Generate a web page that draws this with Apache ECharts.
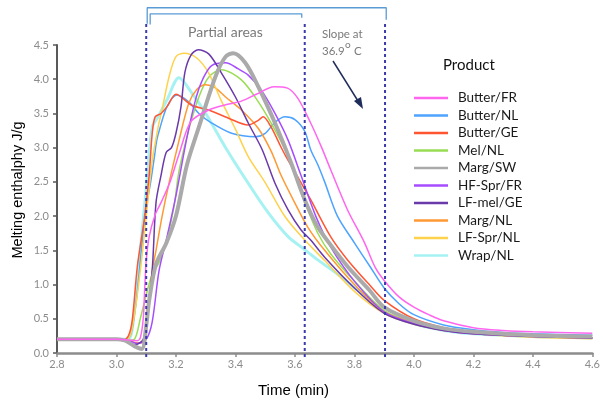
<!DOCTYPE html>
<html><head><meta charset="utf-8">
<script src="https://cdn.jsdelivr.net/npm/echarts@6/dist/echarts.min.js"></script>
<style>html,body{margin:0;padding:0;background:#fff}#c{width:603px;height:401px}</style>
</head><body><div id="c"></div>
<script>
const xTicks = [2.8, 3.0, 3.2, 3.4, 3.6, 3.8, 4.0, 4.2, 4.4, 4.6];
const yTicks = [0.0, 0.5, 1.0, 1.5, 2.0, 2.5, 3.0, 3.5, 4.0, 4.5];
const names = ['Butter/FR','Butter/NL','Butter/GE','Mel/NL','Marg/SW','HF-Spr/FR','LF-mel/GE','Marg/NL','LF-Spr/NL','Wrap/NL'];
const colors = ['#ff66f0','#4da3ff','#ff5533','#99dd55','#aaaaaa','#a64dff','#6a3aaa','#ff9933','#ffd24d','#a6f2f2'];
const widths = [1.5,1.5,1.5,1.5,4,1.5,1.5,1.5,1.5,3];
const regionBounds = [3.1, 3.633, 3.903];

const butterFR = [[2.8,0.2],[3.0,0.2],[3.04,0.19],[3.07,0.18],[3.08,0.22],[3.09,0.5],[3.095,0.95],[3.1,1.35],[3.11,1.7],[3.13,2.02],[3.15,2.2],[3.18,2.5],[3.21,2.9],[3.25,3.38],[3.31,3.55],[3.37,3.63],[3.42,3.68],[3.47,3.78],[3.53,3.89],[3.575,3.87],[3.61,3.72],[3.653,3.36],[3.69,3.0],[3.72,2.68],[3.777,2.09],[3.833,1.62],[3.87,1.25],[3.9,1.06],[3.95,0.82],[4.0,0.67],[4.05,0.56],[4.1,0.47],[4.2,0.37],[4.3,0.33],[4.4,0.31],[4.6,0.29]];
const butterNL = [[2.8,0.2],[3.0,0.2],[3.03,0.18],[3.05,0.3],[3.07,0.9],[3.087,1.65],[3.103,2.2],[3.115,2.5],[3.127,2.85],[3.135,3.1],[3.145,3.27],[3.17,3.6],[3.203,3.77],[3.243,3.67],[3.277,3.5],[3.32,3.36],[3.387,3.21],[3.467,3.16],[3.5,3.21],[3.533,3.37],[3.567,3.45],[3.6,3.41],[3.633,3.24],[3.653,2.97],[3.677,2.75],[3.7,2.5],[3.743,2.0],[3.8,1.61],[3.853,1.26],[3.9,0.95],[3.95,0.72],[4.0,0.56],[4.1,0.41],[4.2,0.34],[4.3,0.3],[4.4,0.28],[4.6,0.26]];
const butterGE = [[2.8,0.2],[3.0,0.2],[3.02,0.18],[3.04,0.25],[3.053,0.48],[3.07,1.26],[3.093,1.94],[3.11,2.6],[3.12,3.2],[3.13,3.45],[3.15,3.5],[3.17,3.6],[3.2,3.78],[3.253,3.62],[3.31,3.55],[3.377,3.43],[3.443,3.33],[3.477,3.4],[3.493,3.45],[3.52,3.3],[3.553,3.01],[3.57,2.87],[3.61,2.57],[3.653,2.24],[3.72,1.7],[3.777,1.36],[3.85,1.0],[3.9,0.77],[4.0,0.5],[4.1,0.37],[4.2,0.3],[4.4,0.25],[4.6,0.22]];
const melNL = [[2.8,0.2],[3.0,0.2],[3.03,0.18],[3.06,0.2],[3.08,0.5],[3.1,0.85],[3.12,1.15],[3.143,1.32],[3.167,1.61],[3.193,2.13],[3.21,2.65],[3.243,3.26],[3.277,3.74],[3.31,4.03],[3.353,4.14],[3.42,3.99],[3.477,3.67],[3.52,3.36],[3.567,2.97],[3.6,2.6],[3.633,2.2],[3.677,1.75],[3.72,1.45],[3.8,1.05],[3.9,0.62],[4.0,0.44],[4.1,0.34],[4.2,0.29],[4.4,0.24],[4.6,0.22]];
const margSW = [[2.8,0.2],[3.0,0.2],[3.03,0.18],[3.06,0.1],[3.085,0.06],[3.1,0.4],[3.11,0.77],[3.133,1.3],[3.167,1.6],[3.2,2.0],[3.237,2.75],[3.277,3.3],[3.333,4.04],[3.367,4.33],[3.393,4.38],[3.433,4.24],[3.477,3.89],[3.533,3.36],[3.587,2.78],[3.633,2.24],[3.677,1.84],[3.72,1.58],[3.78,1.25],[3.85,0.92],[3.9,0.67],[4.0,0.47],[4.1,0.36],[4.2,0.31],[4.4,0.26],[4.6,0.24]];
const hfSprFR = [[2.8,0.2],[3.0,0.2],[3.04,0.18],[3.07,0.14],[3.1,0.2],[3.12,0.45],[3.143,1.2],[3.17,1.7],[3.2,2.3],[3.237,3.15],[3.267,3.72],[3.29,4.0],[3.32,4.2],[3.367,4.24],[3.41,4.15],[3.443,4.06],[3.487,3.84],[3.533,3.5],[3.577,3.11],[3.62,2.6],[3.67,2.0],[3.72,1.55],[3.8,1.05],[3.9,0.6],[4.0,0.43],[4.1,0.33],[4.2,0.28],[4.4,0.24],[4.6,0.22]];
const lfMelGE = [[2.8,0.2],[3.0,0.2],[3.03,0.17],[3.06,0.12],[3.09,0.2],[3.103,0.53],[3.12,1.2],[3.133,2.2],[3.15,2.6],[3.167,2.93],[3.185,3.0],[3.2,3.21],[3.217,3.6],[3.23,4.1],[3.25,4.35],[3.275,4.43],[3.31,4.37],[3.353,4.09],[3.4,3.74],[3.443,3.36],[3.49,2.97],[3.533,2.48],[3.577,2.09],[3.62,1.8],[3.653,1.65],[3.7,1.4],[3.8,0.95],[3.9,0.58],[4.0,0.42],[4.1,0.33],[4.2,0.28],[4.4,0.24],[4.6,0.22]];
const margNL = [[2.8,0.2],[3.0,0.2],[3.04,0.18],[3.07,0.15],[3.087,0.15],[3.1,0.38],[3.12,1.2],[3.133,1.5],[3.153,1.99],[3.177,2.49],[3.21,3.1],[3.243,3.65],[3.27,3.85],[3.3,3.92],[3.33,3.88],[3.367,3.74],[3.42,3.55],[3.477,3.28],[3.52,2.95],[3.553,2.6],[3.6,2.19],[3.643,1.84],[3.7,1.5],[3.8,1.0],[3.9,0.6],[4.0,0.44],[4.1,0.34],[4.2,0.29],[4.4,0.24],[4.6,0.22]];
const lfSprNL = [[2.8,0.2],[3.0,0.2],[3.03,0.18],[3.05,0.3],[3.08,1.2],[3.1,2.0],[3.12,2.8],[3.14,3.3],[3.153,3.55],[3.177,4.04],[3.2,4.33],[3.227,4.38],[3.27,4.31],[3.31,4.09],[3.353,3.68],[3.4,3.27],[3.443,2.87],[3.5,2.49],[3.567,1.99],[3.633,1.65],[3.7,1.35],[3.8,0.9],[3.9,0.58],[4.0,0.42],[4.1,0.33],[4.2,0.28],[4.4,0.23],[4.6,0.21]];
const wrapNL = [[2.8,0.2],[3.0,0.2],[3.04,0.2],[3.06,0.6],[3.08,1.5],[3.1,2.4],[3.12,3.3],[3.14,3.45],[3.17,3.7],[3.21,4.02],[3.253,3.8],[3.3,3.5],[3.367,3.0],[3.443,2.48],[3.51,2.05],[3.577,1.7],[3.633,1.51],[3.677,1.36],[3.75,1.13],[3.83,0.85],[3.9,0.6],[4.0,0.43],[4.1,0.33],[4.2,0.28],[4.4,0.24],[4.6,0.22]];

const seriesData = [butterFR, butterNL, butterGE, melNL, margSW, hfSprFR, lfMelGE, margNL, lfSprNL, wrapNL];
const zOrder = [12, 4, 6, 5, 9, 7, 8, 5, 5, 3];

const chart = echarts.init(document.getElementById('c'), null, {renderer:'canvas'});
const series = names.map((n, i) => ({
  name: n, type: 'line', data: seriesData[i], smooth: 0.3, symbol: 'none', z: zOrder[i],
  lineStyle: {color: colors[i], width: widths[i]}, itemStyle: {color: colors[i]}, animation: false
}));
regionBounds.forEach(x => {
  series.push({type:'line', data:[[x,-0.06],[x,4.84]], symbol:'none', clip:false, silent:true, z:20,
    lineStyle:{color:'#3b3bab', width:2, type:[3,3]}, animation:false});
});
series.push({type:'line', data:[[3.1033,4.81],[3.1033,5.044],[3.907,5.044],[3.907,4.87]], symbol:'none', clip:false, silent:true, z:20,
  lineStyle:{color:'#5b9bd5', width:1.3}, animation:false});
series.push({type:'line', data:[[3.1133,4.80],[3.1133,4.956],[3.623,4.956],[3.623,4.898]], symbol:'none', clip:false, silent:true, z:20,
  lineStyle:{color:'#5b9bd5', width:1.3}, animation:false});

const legendData = names.map((n, i) => ({name: n, icon: 'rect', itemStyle: {color: colors[i]}}));

const option = {
  animation: false,
  grid: {left: 57, right: 6, top: 45, bottom: 48},
  xAxis: {
    type: 'value', min: 2.8, max: 4.6, interval: 0.2,
    axisLine: {show: true, lineStyle: {color: '#8c8c8c', width: 2.5}},
    axisTick: {show: true, length: 4, lineStyle: {color: '#8c8c8c', width: 1.5}},
    axisLabel: {color: '#8c8c8c', fontSize: 11, fontFamily: 'Lato', margin: 6, formatter: v => v.toFixed(1)},
    splitLine: {show: false}
  },
  yAxis: {
    type: 'value', min: 0, max: 4.5, interval: 0.5,
    axisLine: {show: true, lineStyle: {color: '#595959', width: 2}},
    axisTick: {show: true, length: 4, lineStyle: {color: '#595959', width: 1.5}},
    axisLabel: {color: '#8c8c8c', fontSize: 11, fontFamily: 'Lato', margin: 8, formatter: v => v.toFixed(1)},
    splitLine: {show: false}
  },
  legend: {
    orient: 'vertical', left: 409, top: 86, itemWidth: 34, itemHeight: 2.5, itemGap: 3.5,
    data: legendData, selectedMode: false,
    textStyle: {fontSize: 13.5, color: '#1a1a1a', fontFamily: 'Lato', padding: [0,0,0,5], lineHeight: 14}
  },
  graphic: [
    {type:'text', left:443, top:58, style:{text:'Product', font:'15px Lato', fill:'#111'}},
    {type:'text', left:188, top:25, style:{text:'Partial areas', font:'14px Lato', fill:'#7a7a7a'}},
    {type:'text', left:322, top:28, style:{text:'Slope at', font:'11.5px Lato', fill:'#7a7a7a'}},
    {type:'text', left:322, top:45, style:{text:'36.9', font:'11.5px Lato', fill:'#7a7a7a'}},
    {type:'text', left:345, top:40, style:{text:'o', font:'10px Lato', fill:'#7a7a7a'}},
    {type:'text', left:354, top:45, style:{text:'C', font:'11.5px Lato', fill:'#7a7a7a'}},
    {type:'line', shape:{x1:333, y1:61, x2:358, y2:101}, style:{stroke:'#1f2d5a', lineWidth:1.5}},
    {type:'polygon', shape:{points:[[363,109],[354,101],[361,97]]}, style:{fill:'#1f2d5a'}},
    {type:'text', left:258, top:383, style:{text:'Time (min)', font:'15px "Liberation Sans"', fill:'#000'}},
    {type:'text', x:18, y:190, rotation:Math.PI/2, style:{text:'Melting enthalphy J/g', font:'14.5px "Liberation Sans"', fill:'#000', align:'center', verticalAlign:'middle'}}
  ],
  series: series
};
chart.setOption(option);
</script>
</body></html>
